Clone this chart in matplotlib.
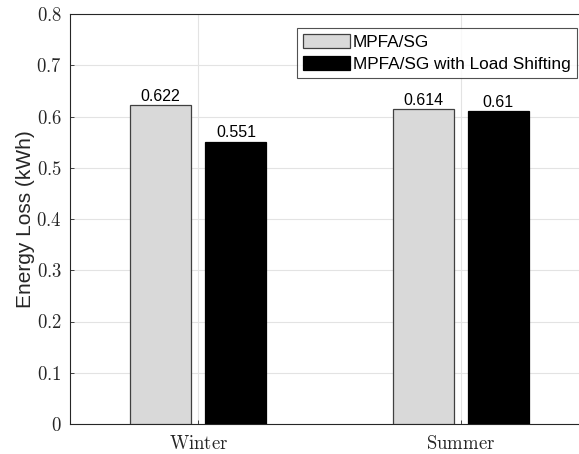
import matplotlib
matplotlib.use("Agg")
import matplotlib.pyplot as plt
import numpy as np

# data
seasons = ["Winter", "Summer"]
mpfa_sg = [0.622, 0.614]
mpfa_sg_ls = [0.551, 0.61]
series_names = ["MPFA/SG", "MPFA/SG with Load Shifting"]
yticks = [0, 0.1, 0.2, 0.3, 0.4, 0.5, 0.6, 0.7, 0.8]

plt.rcParams["mathtext.fontset"] = "cm"
plt.rcParams["font.family"] = "Liberation Sans"

fig = plt.figure(figsize=(5.79, 4.54), dpi=100)
ax = fig.add_axes([70 / 579, 30 / 454, 519 / 579, 410 / 454])

x = np.arange(1, len(seasons) + 1)
w = 0.2325
off = 0.1433
b1 = ax.bar(x - off, mpfa_sg, w, color="#d9d9d9", edgecolor="#404040", linewidth=0.9,
            label=series_names[0], zorder=3)
b2 = ax.bar(x + off, mpfa_sg_ls, w, color="black", edgecolor="black", linewidth=0.9,
            label=series_names[1], zorder=3)

for bars, vals in [(b1, mpfa_sg), (b2, mpfa_sg_ls)]:
    for r, v in zip(bars, vals):
        ax.text(r.get_x() + r.get_width() / 2, v + 0.003, f"{v:g}",
                ha="center", va="bottom", fontsize=11.5, color="black")

ax.set_xlim(0.511, 2.489)
ax.set_ylim(0, 0.8)
ax.set_xticks(x)
ax.set_xticklabels(["$\\mathrm{" + s + "}$" for s in seasons], fontsize=13.5, color="#262626")
ax.set_yticks(yticks)
ax.set_yticklabels(["$" + f"{t:g}" + "$" for t in yticks], fontsize=13.5, color="#262626")
ax.tick_params(direction="in", length=3, width=0.6, color="#262626", pad=6)
ax.tick_params(axis="x", pad=8)

ax.grid(True, color="#e3e3e3", linewidth=0.8, zorder=0)
ax.set_axisbelow(True)
for s in ax.spines.values():
    s.set_color("#262626")
    s.set_linewidth(0.8)
# axes box runs past the right edge of the picture
ax.spines["right"].set_visible(False)

ax.set_ylabel("Energy Loss (kWh)", fontsize=15, color="#262626")
ax.yaxis.set_label_coords(-0.068, 0.5)

leg = ax.legend(loc="upper left", bbox_to_anchor=(297 / 579, 1 - 28 / 454),
                bbox_transform=fig.transFigure, fontsize=12.4, frameon=True,
                fancybox=False, edgecolor="#262626", handlelength=2.75,
                handleheight=0.9, labelspacing=0.35, borderpad=0.35,
                handletextpad=0.15, borderaxespad=0)
leg.get_frame().set_linewidth(0.8)

fig.savefig("out.png", dpi=100)
